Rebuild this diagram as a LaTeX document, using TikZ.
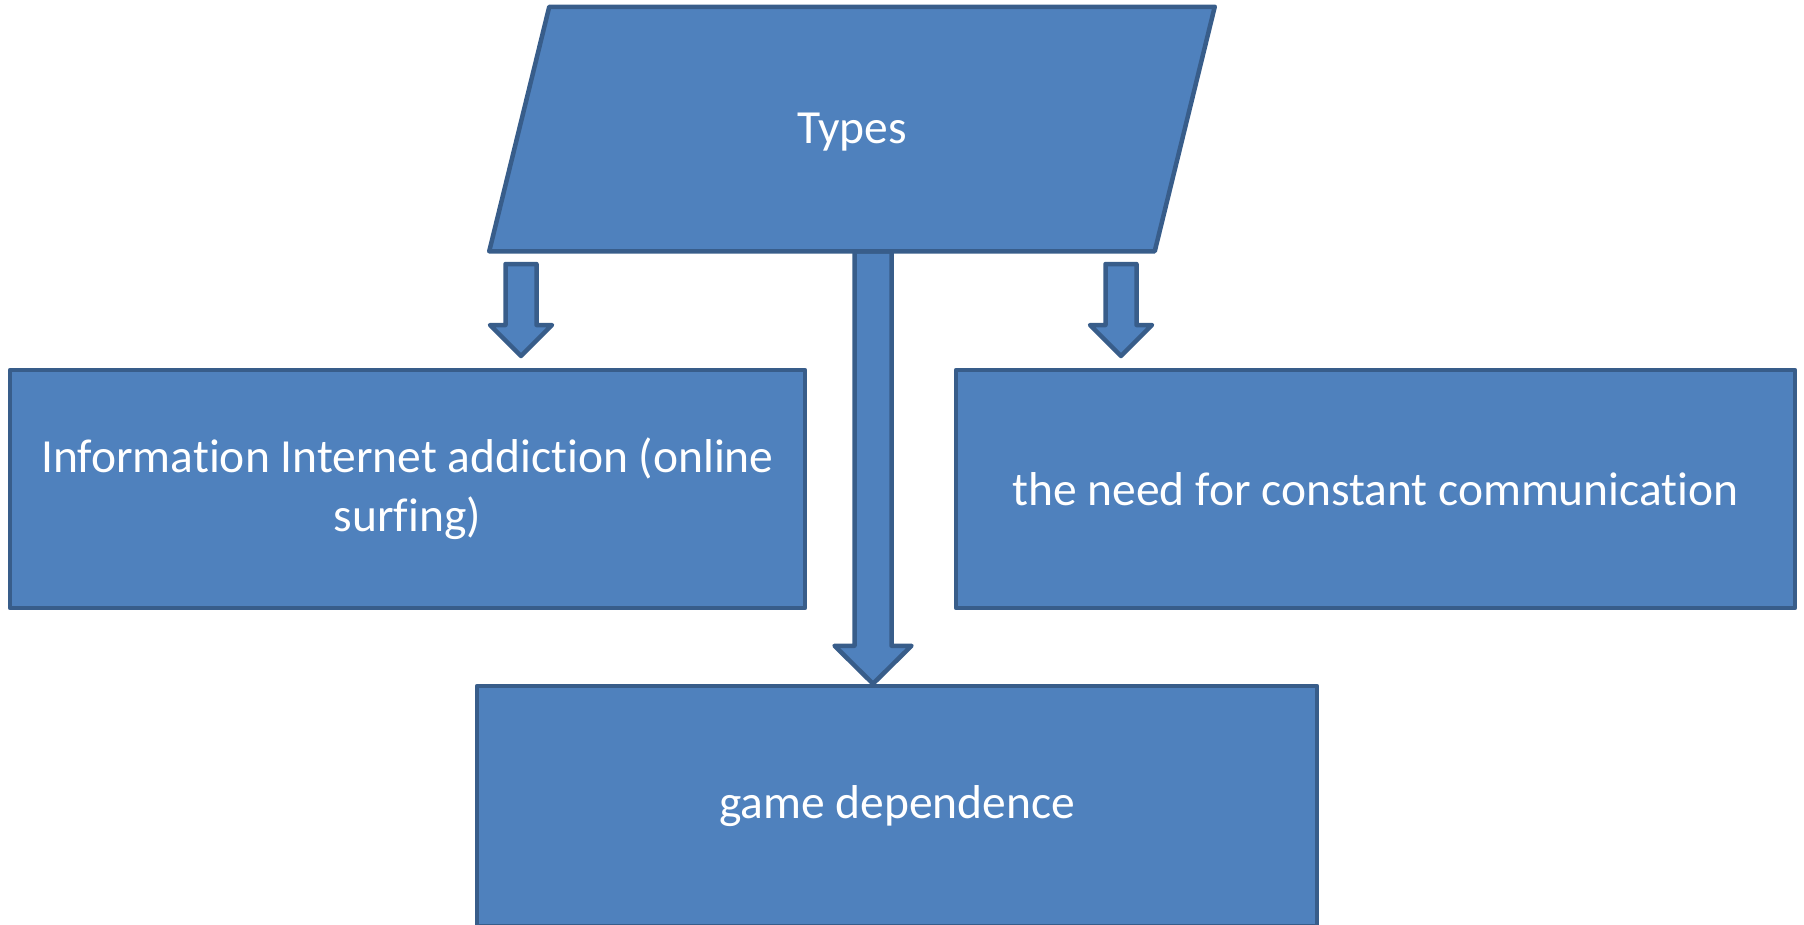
\documentclass[tikz,border=0pt]{standalone}
\usepackage{fontspec}
\setmainfont{Carlito}[Ligatures=NoCommon, RawFeature=-liga, RawFeature=-clig, RawFeature=-calt]
\usepackage{tikz}
\usetikzlibrary{positioning,calc,backgrounds}
\definecolor{boxblue}{HTML}{4F81BD}
\definecolor{boxedge}{HTML}{385D8A}

\newcommand{\blockarrow}[5]{%
  \draw[arrowshape] ($(#1)+(-#3,0)$) -- ($(#2)+(-#3,-#5)$) -- ($(#2)+(-#4,-#5)$) -- (#2)
    -- ($(#2)+(#4,-#5)$) -- ($(#2)+(#3,-#5)$) -- ($(#1)+(#3,0)$) -- cycle;}

\begin{document}
\begin{tikzpicture}[x=1pt, y=-1pt,
    box/.style={draw=boxedge, fill=boxblue, line width=4.5pt, line join=round, text=white,
      font=\fontsize{47.5}{59}\selectfont, align=center, inner sep=0pt},
    arrowshape/.style={draw=boxedge, fill=boxblue, line width=4.5pt, line join=round}]
  \useasboundingbox (0,0) rectangle (1804,924);
  \node[box, draw=none, fill=none, minimum width=661, minimum height=240] (types) at (852,132) {Types};
  \node[box, minimum width=795, minimum height=238] (surfing) at (407.5,489) {Information Internet addiction (online\\surfing)};
  \node[box, minimum width=839, minimum height=238] (communication) at (1375.5,489) {the need for constant communication};
  \node[box, minimum width=840, minimum height=240] (game) at (897,806) {game dependence};
  \begin{scope}[on background layer]
    \coordinate (lefttail) at (521,264);
    \coordinate (lefttip) at (521,356);
    \coordinate (righttail) at (1121,264);
    \coordinate (righttip) at (1121,356);
    \coordinate (gametail) at ($(types.south)+(21,-3)$);
    \coordinate (gametip) at ($(game.north)+(-24,0)$);
    \blockarrow{lefttail}{lefttip}{15.5}{31}{31}
    \blockarrow{righttail}{righttip}{15.5}{31}{31}
    \blockarrow{gametail}{gametip}{18.5}{38.5}{38}
    \draw[arrowshape] ($(types.north west)+(30,-3)$) -- ($(types.north east)+(30,-3)$)
      -- ($(types.south east)+(-30,-3)$) -- ($(types.south west)+(-30,-3)$) -- cycle;
  \end{scope}
\end{tikzpicture}
\end{document}
